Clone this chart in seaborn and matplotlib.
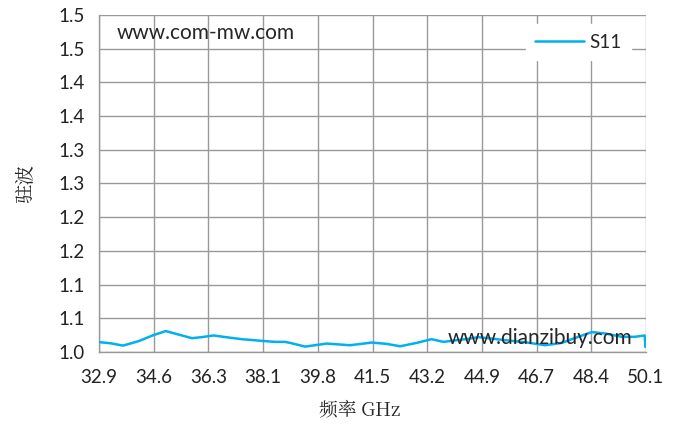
import matplotlib
matplotlib.use("Agg")
import matplotlib.pyplot as plt
import numpy as np
import pandas as pd
import seaborn as sns

# S11 VSWR readings (frequency in GHz)
freq = [32.93, 33.25, 33.66, 34.14, 34.61, 35.00, 35.39, 35.82, 36.13, 36.50,
        36.97, 37.39, 38.02, 38.44, 38.75, 38.91, 39.38, 40.06, 40.79, 41.48,
        41.95, 42.37, 42.89, 43.36, 43.73, 44.15, 44.51, 44.83, 45.77, 46.30,
        46.93, 47.45, 47.97, 48.40, 48.81, 49.34, 49.75, 50.06, 50.08, 50.10]
vswr = [1.0145, 1.013, 1.0095, 1.016, 1.025, 1.031, 1.026, 1.0205, 1.022, 1.0245,
        1.0215, 1.019, 1.0165, 1.015, 1.015, 1.0135, 1.008, 1.0125, 1.010, 1.014,
        1.012, 1.0085, 1.0135, 1.019, 1.015, 1.0175, 1.0195, 1.022, 1.017, 1.0145,
        1.010, 1.0135, 1.0225, 1.0295, 1.0275, 1.0225, 1.0225, 1.0245, 1.0075, 1.0075]

x_ticks = [32.9, 34.6, 36.3, 38.1, 39.8, 41.5, 43.2, 44.9, 46.7, 48.4, 50.1]
y_ticks = [1.00, 1.05, 1.10, 1.15, 1.20, 1.25, 1.30, 1.35, 1.40, 1.45, 1.50]
y_tick_labels = ["1.0", "1.1", "1.1", "1.2", "1.2", "1.3", "1.3", "1.4", "1.4", "1.5", "1.5"]

df = pd.DataFrame({"freq": freq, "S11": vswr})

sns.set_style("white")
plt.rcParams["font.family"] = ["Lato", "Noto Sans CJK SC", "DejaVu Sans"]

fig, ax = plt.subplots(figsize=(6.8, 4.25), dpi=100)
fig.subplots_adjust(left=0.1456, right=0.95, bottom=0.1718, top=0.9647)

sns.lineplot(data=df, x="freq", y="S11", ax=ax, color="#00B0F0", linewidth=1.8,
             label="S11", zorder=3)

ax.set_xlim(32.9, 50.1)
ax.set_ylim(1.0, 1.5)
# evenly spaced ticks, labelled with the rounded values
ax.set_xticks(np.linspace(32.9, 50.1, len(x_ticks)))
ax.set_xticklabels([f"{v:.1f}" for v in x_ticks])
ax.set_yticks(y_ticks)
ax.set_yticklabels(y_tick_labels)

ax.grid(True, color="#999999", linewidth=1.0)
ax.set_axisbelow(True)
for s in ["top", "right"]:
    ax.spines[s].set_visible(False)
for s in ["left", "bottom"]:
    ax.spines[s].set_color("#999999")
    ax.spines[s].set_linewidth(1.0)
ax.tick_params(axis="both", which="major", direction="out", length=6, width=1.0,
               color="#999999", labelsize=13.5, labelcolor="#222222", pad=4)
ax.tick_params(axis="x", pad=6)

cjk = ["Noto Serif CJK SC", "Noto Sans CJK SC", "DejaVu Serif"]
ax.set_xlabel("频率 GHz", fontsize=13.5, family=cjk)
ax.xaxis.set_label_coords(0.477, -0.145)
ax.set_ylabel("驻波", fontsize=14, family=cjk, labelpad=16)

ax.text(33.47, 1.473, "www.com-mw.com", fontsize=15, va="center", ha="left", zorder=4)
ax.text(43.85, 1.021, "www.dianzibuy.com", fontsize=15, va="center", ha="left", zorder=4)

leg = ax.legend(loc="upper right", bbox_to_anchor=(0.99, 1.0), frameon=True,
                fancybox=False, framealpha=1, edgecolor="white", facecolor="white",
                fontsize=13.5, handlelength=2.6, handletextpad=0.3, borderpad=0.5)

fig.savefig("out.png", dpi=100)
